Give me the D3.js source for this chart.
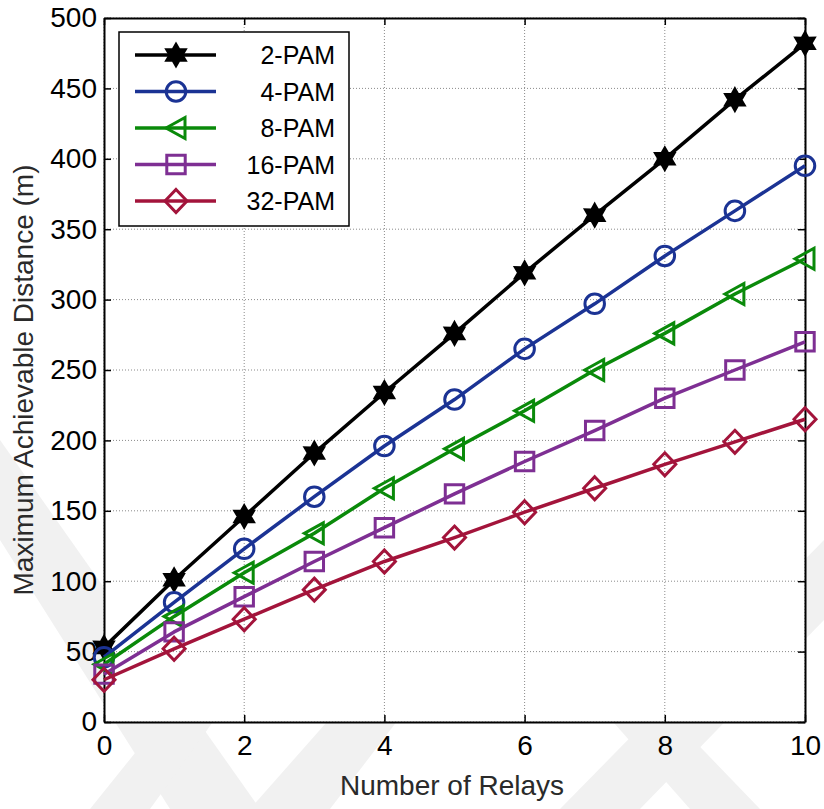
<!DOCTYPE html>
<html><head><meta charset="utf-8">
<script src="https://cdn.jsdelivr.net/npm/d3@7"></script>
<style>body{margin:0;background:#fff}svg{display:block}text{font-family:"Liberation Sans",Arial,sans-serif}</style>
</head><body><svg id="c" width="824" height="809"></svg>
<script>
const relays = [0,1,2,3,4,5,6,7,8,9,10];
const seriesNames = ["2-PAM","4-PAM","8-PAM","16-PAM","32-PAM"];
const pam2  = [53,101,146,191,234,276,319,360,400,442,482];
const pam4  = [46,85,123,160,196,229,265,297,331,363,395];
const pam8  = [41,75,106,134,166,194,221,250,276,304,329];
const pam16 = [34,64,89,114,138,162,185,207,230,250,270];
const pam32 = [30,52,73,94,114,131,149,166,183,199,215];
const xTicks = [0,2,4,6,8,10];
const yTicks = [0,50,100,150,200,250,300,350,400,450,500];
const colors = ["#000000","#1b3394","#0a8a0a","#7e2f93","#a3143b"];
const symbols = ["hexagram","circle","triangle","square","diamond"];
const seriesValues = [pam2,pam4,pam8,pam16,pam32];

const svg = d3.select("#c");
const L=104, R=805, T=18, B=722;
const x = d3.scaleLinear().domain([0,10]).range([L,R]);
const y = d3.scaleLinear().domain([0,500]).range([B,T]);

// faint watermark bands (background decoration)
const wm = svg.append("g").attr("fill","#f1f1f1");
[
  [[0,440],[0,540],[170,809],[260,809]],
  [[90,809],[150,809],[330,560],[290,560]],
  [[250,809],[330,809],[520,560],[470,560]],
  [[470,560],[520,560],[760,809],[690,809]],
  [[560,809],[640,809],[824,620],[824,540]]
].forEach(p=>wm.append("polygon").attr("points",p.map(q=>q.join(",")).join(" ")));

// plot background
svg.append("rect").attr("x",L).attr("y",T).attr("width",R-L).attr("height",B-T).attr("fill","#fff");

// grid
const g = svg.append("g");
g.selectAll(".gx").data(xTicks).join("line")
  .attr("x1",d=>x(d)).attr("x2",d=>x(d)).attr("y1",T).attr("y2",B)
  .attr("stroke","#8a8a8a").attr("stroke-width",1).attr("stroke-dasharray","1,2");
g.selectAll(".gy").data(yTicks).join("line")
  .attr("y1",d=>y(d)).attr("y2",d=>y(d)).attr("x1",L).attr("x2",R)
  .attr("stroke","#8a8a8a").attr("stroke-width",1).attr("stroke-dasharray","1,2");

// axes
const fs = "28px";
const ax = svg.append("g").attr("transform",`translate(0,${B})`)
  .call(d3.axisBottom(x).tickValues(xTicks).tickSizeInner(-7).tickSizeOuter(0).tickPadding(13));
const ay = svg.append("g").attr("transform",`translate(${L},0)`)
  .call(d3.axisLeft(y).tickValues(yTicks).tickSizeInner(-7).tickSizeOuter(0).tickPadding(7));
const axT = svg.append("g").attr("transform",`translate(0,${T})`)
  .call(d3.axisTop(x).tickValues(xTicks).tickSizeInner(-7).tickSizeOuter(0).tickFormat(""));
const ayR = svg.append("g").attr("transform",`translate(${R},0)`)
  .call(d3.axisRight(y).tickValues(yTicks).tickSizeInner(-7).tickSizeOuter(0).tickFormat(""));
[ax,ay,axT,ayR].forEach(a=>{
  a.select(".domain").attr("stroke","#000").attr("stroke-width",2);
  a.selectAll(".tick line").attr("stroke","#000").attr("stroke-width",1.5);
  a.selectAll("text").attr("font-size",fs).attr("fill","#000").style("font-family","Liberation Sans, Arial, sans-serif");
});

function markerPath(type){
  if(type==="hexagram"){
    const r=10.5, r2=6; let p=[];
    for(let i=0;i<12;i++){const a=-Math.PI/2+i*Math.PI/6; const rr=i%2===0?r:r2; p.push([rr*Math.cos(a),rr*Math.sin(a)]);}
    return "M"+p.map(q=>q.join(",")).join("L")+"Z";
  }
  if(type==="triangle") return "M-10,0L9,-10.5L9,10.5Z";
  if(type==="circle") return d3.symbol(d3.symbolCircle,300)();
  if(type==="square") return d3.symbol(d3.symbolSquare,340)();
  if(type==="diamond") return "M0,-11.5L11,0L0,11.5L-11,0Z";
}
const line = d3.line().x((d,i)=>x(relays[i])).y(d=>y(d));
seriesValues.forEach((vals,si)=>{
  const c = colors[si];
  svg.append("path").datum(vals).attr("d",line).attr("fill","none")
    .attr("stroke",c).attr("stroke-width",3.5).attr("stroke-linejoin","round");
  svg.append("g").selectAll("path").data(vals).join("path")
    .attr("transform",(d,i)=>`translate(${x(relays[i])},${y(d)})`)
    .attr("d",markerPath(symbols[si]))
    .attr("fill", si===0?"#000":"none").attr("stroke",c).attr("stroke-width",3);
});

// legend
const lg = svg.append("g");
lg.append("rect").attr("x",119).attr("y",32).attr("width",230).attr("height",194)
  .attr("fill","#fff").attr("stroke","#000").attr("stroke-width",1.5);
seriesNames.forEach((n,i)=>{
  const yy = 55 + i*36.5;
  lg.append("line").attr("x1",135).attr("x2",216).attr("y1",yy).attr("y2",yy)
    .attr("stroke",colors[i]).attr("stroke-width",3.5);
  lg.append("path").attr("transform",`translate(176,${yy})`).attr("d",markerPath(symbols[i]))
    .attr("fill", i===0?"#000":"none").attr("stroke",colors[i]).attr("stroke-width",3);
  lg.append("text").attr("x",335).attr("y",yy+9).attr("text-anchor","end")
    .attr("font-size","25px").attr("fill","#000").text(n);
});

// axis titles
svg.append("text").attr("x",452).attr("y",795).attr("text-anchor","middle")
  .attr("font-size","28px").attr("fill","#2a2a2a").text("Number of Relays");
svg.append("text").attr("transform",`translate(33,380) rotate(-90)`)
  .attr("text-anchor","middle").attr("font-size","28px").attr("fill","#2a2a2a")
  .text("Maximum Achievable Distance (m)");
</script></body></html>
